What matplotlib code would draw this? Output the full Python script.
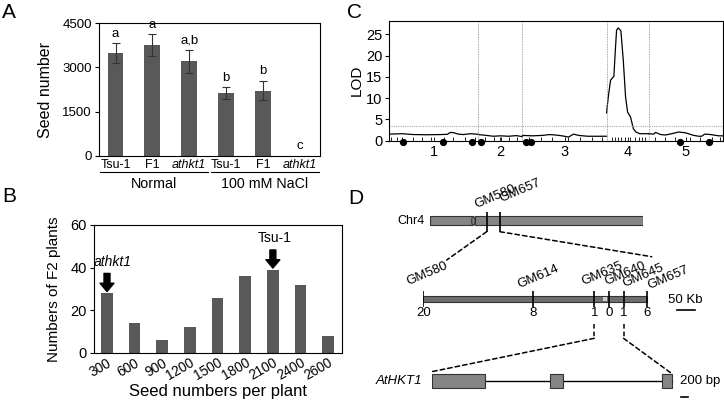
import numpy as np
import matplotlib
matplotlib.use('Agg')
import matplotlib.pyplot as plt
from matplotlib.patches import Rectangle, Ellipse, ConnectionPatch
from matplotlib.transforms import ScaledTranslation

plt.rcParams['font.family'] = ['Liberation Sans', 'DejaVu Sans']
plt.rcParams['axes.linewidth'] = 0.8

# ---- data ----
# A: seed number per plant
a_genotypes = ['Tsu-1', 'F1', 'athkt1', 'Tsu-1', 'F1', 'athkt1']
a_conditions = ['Normal', '100 mM NaCl']
a_means = [3480, 3760, 3200, 2135, 2215, 0]
a_errs = [340, 365, 390, 195, 330, 0]
a_letters = ['a', 'a', 'a,b', 'b', 'b', 'c']

# B: F2 distribution
b_bins = ['300', '600', '900', '1200', '1500', '1800', '2100', '2400', '2600']
b_counts = [28, 14, 6, 12, 26, 36, 39, 32, 8]
b_arrows = {'athkt1': 0, 'Tsu-1': 6}

# C: QTL scan, positions are local to each chromosome
chrom_names = ['1', '2', '3', '4', '5']
chrom_len = [89, 44, 84, 42, 74]
lod_pos = [
    [0, 13, 24, 37, 51, 58, 61, 64, 69, 74, 81, 89],
    [0, 8, 15, 22, 30, 38, 44],
    [0, 10, 20, 27, 35, 42, 46, 51, 56, 65, 84],
    [0, 1.7, 4, 7.3, 8.7, 10, 11.7, 14.3, 16.7, 19, 21, 24, 26.7, 29.3, 33.3, 42],
    [0, 5, 7, 12, 17, 25, 30, 37, 45, 50, 53, 56, 62, 70, 74],
]
lod_val = [
    [1.5, 1.6, 1.4, 1.35, 1.4, 1.45, 1.9, 1.85, 1.5, 1.4, 1.6, 1.45],
    [1.4, 1.2, 1.0, 1.1, 1.0, 1.15, 0.9],
    [1.2, 1.1, 1.2, 1.4, 1.25, 1.0, 0.8, 1.5, 1.2, 1.0, 1.0],
    [6.5, 10.2, 14.2, 15.1, 21, 26, 26.5, 25.8, 18.9, 10.2, 6.7, 5.5, 2.8, 2.0, 1.6, 1.6],
    [1.6, 1.5, 1.9, 1.4, 1.3, 1.7, 2.0, 1.8, 1.2, 1.0, 1.0, 1.5, 1.4, 1.1, 1.1],
]
lod_threshold = 3.5
marker_pos = [2, 8, 13, 24, 33, 42, 55, 64, 76, 86, 96, 105, 112, 120, 128,
              140, 152, 163, 178, 190, 202, 212, 222, 225, 228, 231, 235, 240,
              245, 249, 252, 255, 265, 275, 285, 300, 310, 322, 330]
dot_pos = [13.4, 54, 82.4, 91.4, 136.4, 141.7, 290, 319]

# D: map-based cloning
chr4_len_mb = 18.6
chr4_cen_mb = (3.64, 3.93)
chr4_markers = ['GM580', 'GM657']
chr4_marker_mb = [4.95, 6.1]
fine_markers = ['GM580', 'GM614', 'GM635', 'GM640', 'GM645', 'GM657']
fine_kb = [0, 300, 468, 508, 548, 613]
fine_recomb = [20, 8, 1, 0, 1, 6]
hkt1_kb = (491, 504)
exons_bp = [(0, 1385), (3073, 3420), (5990, 6250)]

W, H = 724, 400
BAR = '#595959'
fig = plt.figure(figsize=(W / 100, H / 100), dpi=100)


def px_axes(x0, y0, x1, y1):
    return fig.add_axes([x0 / W, 1 - y1 / H, (x1 - x0) / W, (y1 - y0) / H])


# ---------- A ----------
ax = px_axes(99, 23, 320, 156)
xa = np.arange(len(a_means))
ax.bar(xa, a_means, width=0.43, color=BAR)
has_err = np.array(a_errs) > 0
ax.errorbar(xa[has_err], np.array(a_means)[has_err], yerr=np.array(a_errs)[has_err],
            fmt='none', ecolor='#333333', elinewidth=0.8, capsize=3, capthick=0.8)
for i, lab in enumerate(a_letters):
    ax.annotate(lab, (xa[i], a_means[i] + a_errs[i]), xytext=(0, 2.5 if a_errs[i] else 3),
                textcoords='offset points', ha='center', va='bottom', fontsize=9.5)
ax.set_xlim(-0.45, 5.55)
ax.set_ylim(0, 4500)
ax.set_yticks([0, 1500, 3000, 4500])
ax.set_xticks(xa)
ax.set_xticklabels(a_genotypes, fontsize=9)
for t in ax.get_xticklabels():
    if t.get_text() == 'athkt1':
        t.set_style('italic')
ax.tick_params(axis='x', length=0, pad=2)
ax.tick_params(axis='y', labelsize=9.5, length=3, width=0.8, pad=2)
for g, cond in enumerate(a_conditions):
    s = g * 3
    ax.plot([s - 0.42, s + 2.52], [-0.12, -0.12], transform=ax.get_xaxis_transform(),
            clip_on=False, color='black', lw=0.8)
    ax.text(s + 1.05, -0.155, cond, transform=ax.get_xaxis_transform(),
            ha='center', va='top', fontsize=10.3)
ax.set_ylabel('Seed number', fontsize=11.5)
ax.yaxis.set_label_coords(-0.21, 0.5)

# ---------- B ----------
ax = px_axes(94, 225, 342, 353)
xb = np.arange(len(b_counts))
ax.bar(xb, b_counts, width=0.42, color=BAR)
ax.set_xlim(-0.47, 8.5)
ax.set_ylim(0, 60)
ax.set_yticks([0, 20, 40, 60])
ax.set_xticks(xb)
ax.set_xticklabels(b_bins, rotation=30, ha='right', rotation_mode='anchor', fontsize=9.8)
shift = ScaledTranslation(5 / 100, 2 / 100, fig.dpi_scale_trans)
for t in ax.get_xticklabels():
    t.set_transform(t.get_transform() + shift)
ax.tick_params(axis='x', length=0, pad=2)
ax.tick_params(axis='y', labelsize=10.5, length=3, width=0.8, pad=2)
for name, i in b_arrows.items():
    top = b_counts[i]
    ax.annotate('', xy=(i, top + 0.8), xytext=(i, top + 9.3),
                arrowprops=dict(facecolor='black', edgecolor='black', width=4.3,
                                headwidth=10, headlength=6))
    ax.text(i + (0.2 if i == 0 else 0.05), top + 11.5, name, ha='center', va='bottom',
            fontsize=10, style='italic' if name == 'athkt1' else 'normal')
ax.set_ylabel('Numbers of F2 plants', fontsize=11)
ax.yaxis.set_label_coords(-0.135, 0.5)
ax.set_xlabel('Seed numbers per plant', fontsize=12)
ax.xaxis.set_label_coords(0.5, -0.24)

# ---------- C ----------
ax = px_axes(389.3, 20.7, 722.7, 140.5)
offsets = np.concatenate([[0], np.cumsum(chrom_len)[:-1]])
for off, p, v in zip(offsets, lod_pos, lod_val):
    ax.plot(off + np.array(p), v, color='black', lw=0.9)
for b in np.cumsum(chrom_len)[:-1]:
    ax.axvline(b, color='#888888', lw=0.6, ls=(0, (1, 1)))
ax.axhline(lod_threshold, color='#aaaaaa', lw=0.8, ls=(0, (1, 1)))
ax.plot(dot_pos, [-0.4] * len(dot_pos), 'o', color='black', ms=4.2, clip_on=False, zorder=5)
ax.set_xlim(0, sum(chrom_len))
ax.set_ylim(0, 28.2)
ax.set_yticks([0, 5, 10, 15, 20, 25])
ax.set_xticks(offsets + np.array(chrom_len) / 2)
ax.set_xticklabels(chrom_names)
ax.set_xticks(marker_pos, minor=True)
ax.tick_params(axis='x', which='both', direction='in', length=3, width=0.6, labelsize=10.5, pad=3)
ax.tick_params(axis='y', labelsize=10.5, length=3, width=0.8, pad=2)
ax.set_ylabel('LOD', fontsize=11)
ax.yaxis.set_label_coords(-0.076, 0.5)

# ---------- D ----------
EDGE = '#333333'
ax_chr = px_axes(430, 195, 643, 240)
ax_chr.set_xlim(0, chr4_len_mb)
ax_chr.set_ylim(240, 195)
ax_chr.axis('off')
ax_chr.add_patch(Rectangle((0, 216.5), chr4_cen_mb[0], 9, fc='#858585', ec=EDGE, lw=0.8))
ax_chr.add_patch(Rectangle((chr4_cen_mb[1], 216.5), chr4_len_mb - chr4_cen_mb[1], 9,
                           fc='#858585', ec=EDGE, lw=0.8))
ax_chr.add_patch(Ellipse((sum(chr4_cen_mb) / 2, 221), chr4_cen_mb[1] - chr4_cen_mb[0], 9,
                         fc='#858585', ec=EDGE, lw=0.8))
ax_chr.text(0, 221, 'Chr4', ha='right', va='center', fontsize=9,
            transform=ax_chr.transData + ScaledTranslation(-5 / 100, 0, fig.dpi_scale_trans))
ax_chr.vlines(chr4_marker_mb, 211.7, 231.7, color='black', lw=1.2)
for name, mb, dx, dy in zip(chr4_markers, chr4_marker_mb, [-10, 1.7], [3.4, 10]):
    ax_chr.annotate(name, (mb, 211.7), xytext=(dx * 0.72, dy * 0.72), textcoords='offset points',
                    rotation=23, rotation_mode='anchor', ha='left', va='baseline', fontsize=9.5,
                    annotation_clip=False)

ax_fine = px_axes(423.3, 250, 705, 345)
ax_fine.set_xlim(0, 771)
ax_fine.set_ylim(345, 250)
ax_fine.axis('off')
ax_fine.add_patch(Rectangle((fine_kb[0], 296), fine_kb[-1] - fine_kb[0], 5.5, fc='#6e6e6e', ec=EDGE, lw=0.8))
ax_fine.add_patch(Rectangle((hkt1_kb[0], 296.5), hkt1_kb[1] - hkt1_kb[0], 4.5, fc='#cfcfcf', ec='none'))
ax_fine.vlines(fine_kb, 290.7, 306.7, color='black', lw=1.2)
label_dx = [-15, -14, -10.7, -2.6, 1, 2.3]
label_dy = [5.7, 2.4, 5.7, 5.7, 3.4, 1.4]
for name, kb, n, dx, dy in zip(fine_markers, fine_kb, fine_recomb, label_dx, label_dy):
    ax_fine.annotate(name, (kb, 290.7), xytext=(dx * 0.72, dy * 0.72), textcoords='offset points',
                     rotation=23, rotation_mode='anchor', ha='left', va='baseline', fontsize=9.5,
                     annotation_clip=False)
    ax_fine.text(kb, 307.5, str(n), ha='center', va='top', fontsize=9.5)
ax_fine.plot([693, 743], [310, 310], color='black', lw=1.2)
ax_fine.text(718, 300, '50 Kb', ha='center', va='center', fontsize=9.5)

ax_gene = px_axes(431.7, 350, 700, 400)
ax_gene.set_xlim(0, 6969)
ax_gene.set_ylim(400, 350)
ax_gene.axis('off')
ax_gene.plot([exons_bp[0][0], exons_bp[-1][1]], [381.2, 381.2], color='black', lw=1.0, zorder=1)
for s, e in exons_bp:
    ax_gene.add_patch(Rectangle((s, 374), e - s, 14.3, fc='#858585', ec=EDGE, lw=0.8, zorder=2))
ax_gene.annotate('AtHKT1', (0, 381.2), xytext=(-7, 0), textcoords='offset points',
                 ha='right', va='center', fontsize=9.5, style='italic', annotation_clip=False)
ax_gene.plot([6468, 6668], [396.7, 396.7], color='black', lw=1.2, clip_on=False)
ax_gene.text(6440, 381.2, '200 bp', ha='left', va='center', fontsize=9.5)

# dashed zoom connectors
dash = dict(color='black', lw=1.1, ls=(0, (3, 2)))
for mb, kb, yb in zip(chr4_marker_mb, [64, 625], [260, 256.7]):
    fig.add_artist(ConnectionPatch((mb, 231.7), (kb, yb), 'data', 'data',
                                   axesA=ax_chr, axesB=ax_fine, **dash))
for kb, bp, yb in zip([fine_kb[2], fine_kb[4]], [exons_bp[0][0], exons_bp[-1][1]], [371.7, 374]):
    ax_fine.plot([kb, kb], [324, 338.3], clip_on=False, **dash)
    fig.add_artist(ConnectionPatch((kb, 338.3), (bp, yb), 'data', 'data',
                                   axesA=ax_fine, axesB=ax_gene, **dash))

# panel letters
for lab, x, y in [('A', 9, 12.5), ('B', 9, 196.5), ('C', 355, 12.5), ('D', 355.5, 198.5)]:
    fig.text(x / W, 1 - y / H, lab, ha='center', va='center', fontsize=15)

fig.savefig('out.png', dpi=100)
